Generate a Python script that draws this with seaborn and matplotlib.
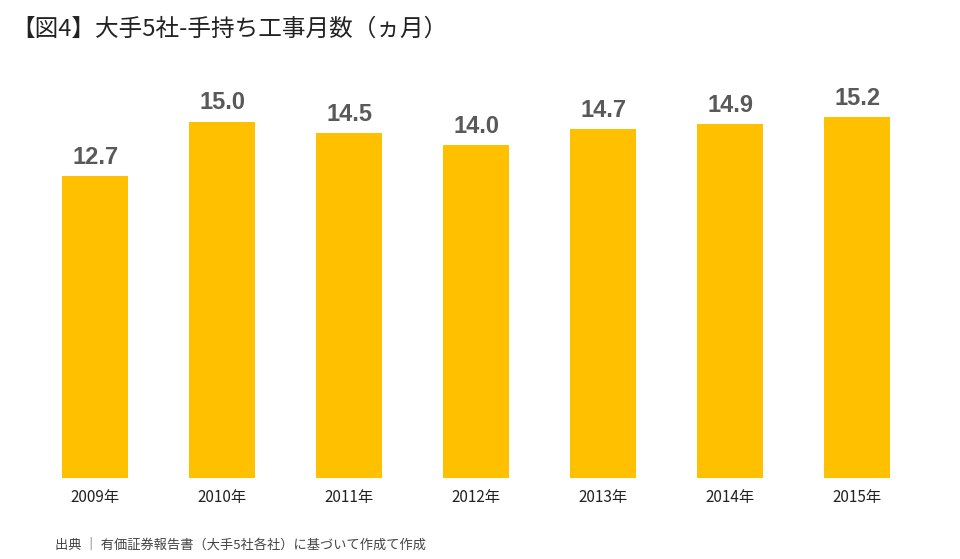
import matplotlib
matplotlib.use('Agg')
import matplotlib.pyplot as plt
import seaborn as sns
import pandas as pd

plt.rcParams['font.family'] = ['Noto Sans CJK JP', 'DejaVu Sans']

years = ['2009年', '2010年', '2011年', '2012年', '2013年', '2014年', '2015年']
months = [12.7, 15.0, 14.5, 14.0, 14.7, 14.9, 15.2]
df = pd.DataFrame({'year': years, 'months': months})

fig = plt.figure(figsize=(9.6, 5.59), dpi=100)
ax = fig.add_axes([0.033, 0.145, 0.926, 0.748])
sns.barplot(data=df, x='year', y='months', color='#FFC000', width=0.52,
            saturation=1, ax=ax)
ax.set_ylim(0, 17.6)
for i, v in enumerate(months):
    ax.text(i, v + 0.3, f'{v:.1f}', ha='center', va='bottom',
            fontsize=17, fontweight='bold', color='#595959', family='Liberation Sans')
for s in ax.spines.values():
    s.set_visible(False)
ax.set_yticks([])
ax.set_xlabel('')
ax.set_ylabel('')
ax.tick_params(axis='x', length=0, labelsize=11, pad=8, colors='#222222')

fig.text(0.012, 0.948, '【図4】大手5社-手持ち工事月数（ヵ月）', fontsize=17,
         color='#222222', va='center')
fig.text(0.057, 0.025, '出典 ｜ 有価証券報告書（大手5社各社）に基づいて作成て作成',
         fontsize=9.5, color='#444444', va='center')
fig.savefig('out.png', dpi=100)
